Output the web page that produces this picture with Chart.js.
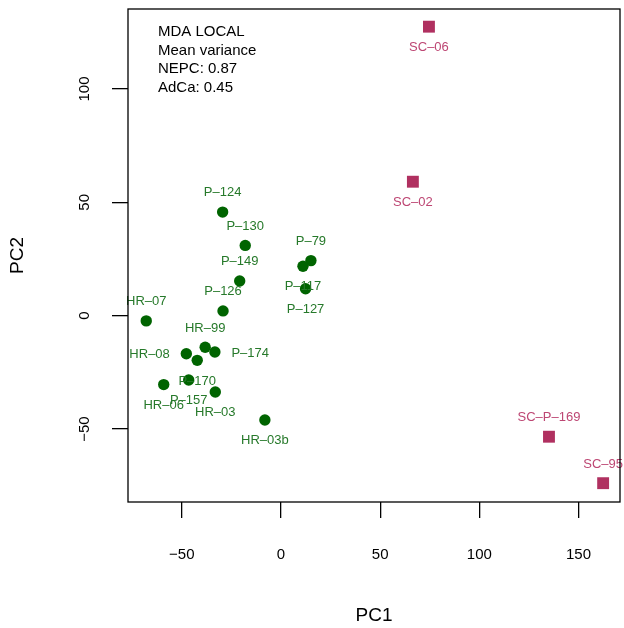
<!doctype html>
<html>
    <head>
        <meta charset="UTF-8" />
        <script src="https://cdn.jsdelivr.net/npm/chart.js"></script>
        <style>
            html, body { margin: 0; padding: 0; background: #fff; }
            #wrap { width: 624px; height: 628px; }
        </style>
    </head>
    <body>
        <div id="wrap"><canvas id="pcaChart" width="624" height="628"></canvas></div>
        <script>
            // NEPC samples (green circles)
            const nepcNames = ["P-124", "P-130", "P-79", "P-117", "P-149", "P-127", "P-126", "HR-07",
                "HR-99", "P-174", "HR-08", "P-170", "P-157", "HR-06", "HR-03", "HR-03b"];
            const nepcPC1 = [-29.4, -18.0, 15.1, 11.1, -20.8, 12.4, -29.2, -67.9,
                -38.2, -33.3, -47.7, -42.2, -46.5, -59.1, -33.1, -8.1];
            const nepcPC2 = [45.7, 31.0, 24.3, 21.8, 15.3, 11.9, 2.1, -2.3,
                -13.9, -16.0, -16.8, -19.7, -28.4, -30.4, -33.7, -46.0];
            const nepcSide = ["above", "above", "above", "below", "above", "below", "above", "above",
                "above", "right", "left", "below", "below", "below", "below", "below"];

            // small cell samples (maroon squares)
            const scNames = ["SC-06", "SC-02", "SC-P-169", "SC-95"];
            const scPC1 = [74.6, 66.5, 135.1, 162.4];
            const scPC2 = [127.5, 59.1, -53.4, -73.9];
            const scSide = ["below", "below", "above", "above"];

            const noteLines = ["MDA LOCAL", "Mean variance", "NEPC: 0.87", "AdCa: 0.45"];

            const xTicks = [-50, 0, 50, 100, 150];
            const yTicks = [-50, 0, 50, 100];
            const xLimits = [-77.1, 170.9];
            const yLimits = [-82.2, 135.3];

            const FONT = "'Liberation Sans', Arial, Helvetica, sans-serif";
            const minus = (s) => String(s).replace(/-/g, "\u2212");

            const pointLabels = {
                id: "pointLabels",
                afterDatasetsDraw(chart) {
                    const ctx = chart.ctx;
                    ctx.save();
                    ctx.font = "13px " + FONT;
                    chart.data.datasets.forEach((ds, di) => {
                        const meta = chart.getDatasetMeta(di);
                        meta.data.forEach((pt, i) => {
                            const side = ds.sides[i];
                            const text = ds.names[i].replace(/-/g, "\u2013");
                            let x = pt.x, y = pt.y + 4.6;
                            ctx.textAlign = "center";
                            if (side === "above") y -= 20.2;
                            if (side === "below") y += 19.6;
                            if (side === "left") { ctx.textAlign = "right"; x -= 16.5; }
                            if (side === "right") { ctx.textAlign = "left"; x += 16.5; }
                            ctx.fillStyle = ds.labelColor;
                            ctx.textBaseline = "alphabetic";
                            ctx.fillText(text, x, y);
                        });
                    });
                    ctx.restore();
                },
                afterDraw(chart) {
                    const { ctx, chartArea: a } = chart;
                    ctx.save();
                    ctx.strokeStyle = "#000";
                    ctx.lineWidth = 1.3;
                    ctx.strokeRect(a.left, a.top, a.right - a.left, a.bottom - a.top);
                    ctx.fillStyle = "#000";
                    ctx.font = "15px " + FONT;
                    ctx.textAlign = "left";
                    ctx.textBaseline = "alphabetic";
                    noteLines.forEach((t, i) => ctx.fillText(t, a.left + 30, a.top + 26.7 + i * 18.8));
                    ctx.restore();
                },
            };

            const tickGrid = { drawOnChartArea: false, drawTicks: true, tickLength: 16, color: "#000", lineWidth: 1.3 };

            new Chart(document.getElementById("pcaChart"), {
                type: "scatter",
                data: {
                    datasets: [
                        {
                            label: "NEPC",
                            data: nepcPC1.map((x, i) => ({ x: x, y: nepcPC2[i] })),
                            names: nepcNames,
                            sides: nepcSide,
                            labelColor: "#26792a",
                            pointStyle: "circle",
                            pointRadius: 5.7,
                            backgroundColor: "#006400",
                            borderColor: "#006400",
                            borderWidth: 0,
                        },
                        {
                            label: "SC",
                            data: scPC1.map((x, i) => ({ x: x, y: scPC2[i] })),
                            names: scNames,
                            sides: scSide,
                            labelColor: "#bd4673",
                            pointStyle: "rect",
                            pointRadius: 8.4,
                            backgroundColor: "#B03060",
                            borderColor: "#B03060",
                            borderWidth: 0,
                        },
                    ],
                },
                options: {
                    responsive: false,
                    animation: false,
                    layout: { autoPadding: false, padding: { top: 9, right: 4, left: 0, bottom: 0 } },
                    plugins: { legend: { display: false }, tooltip: { enabled: false } },
                    scales: {
                        x: {
                            type: "linear",
                            min: xLimits[0],
                            max: xLimits[1],
                            afterBuildTicks: (s) => { s.ticks = xTicks.map((v) => ({ value: v })); },
                            afterFit: (s) => { s.height = 126; s.paddingLeft = 0; s.paddingRight = 0; },
                            border: { display: false },
                            grid: tickGrid,
                            ticks: {
                                padding: 28,
                                color: "#000",
                                font: { family: FONT, size: 15 },
                                callback: (v) => minus(v),
                            },
                            title: {
                                display: true,
                                text: "PC1",
                                color: "#000",
                                font: { family: FONT, size: 19 },
                                padding: { top: 0, bottom: 1 },
                            },
                        },
                        y: {
                            type: "linear",
                            min: yLimits[0],
                            max: yLimits[1],
                            afterBuildTicks: (s) => { s.ticks = yTicks.map((v) => ({ value: v })); },
                            afterFit: (s) => { s.width = 128; s.paddingTop = 0; s.paddingBottom = 0; },
                            border: { display: false },
                            grid: tickGrid,
                            ticks: {
                                minRotation: 90,
                                maxRotation: 90,
                                crossAlign: "center",
                                padding: 14.5,
                                color: "#000",
                                font: { family: FONT, size: 15 },
                                callback: (v) => minus(v),
                            },
                            title: {
                                display: true,
                                text: "PC2",
                                color: "#000",
                                font: { family: FONT, size: 19 },
                                padding: { top: 6, bottom: 0 },
                            },
                        },
                    },
                },
                plugins: [pointLabels],
            });
        </script>
    </body>
</html>
